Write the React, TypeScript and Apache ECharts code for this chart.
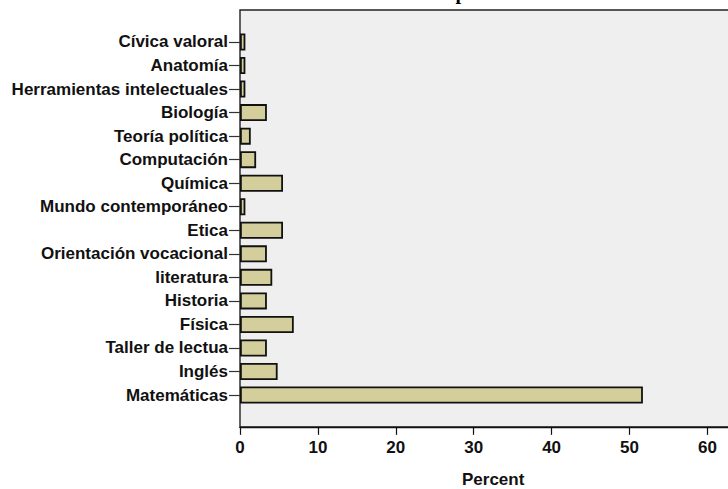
import React, { useEffect, useRef } from "react";
import * as echarts from "echarts";

const categories = [
  "Cívica valoral",
  "Anatomía",
  "Herramientas intelectuales",
  "Biología",
  "Teoría política",
  "Computación",
  "Química",
  "Mundo contemporáneo",
  "Etica",
  "Orientación vocacional",
  "literatura",
  "Historia",
  "Física",
  "Taller de lectua",
  "Inglés",
  "Matemáticas",
];

const percents = [
  0.69, 0.69, 0.69, 3.45, 1.38, 2.07, 5.52, 0.69, 5.52, 3.45, 4.14, 3.45, 6.9,
  3.45, 4.83, 51.72,
];

const xTicks = [0, 10, 20, 30, 40, 50, 60];
const axisName = "Percent";

const FONT = "Liberation Sans";

export default function App() {
  const ref = useRef<HTMLDivElement>(null);
  useEffect(() => {
    if (!ref.current) return;
    const chart = echarts.init(ref.current, null, { renderer: "svg" });
    const gridLeft = 240;
    const gridTop = 30.2;
    const band = 23.54;
    const gridHeight = band * categories.length;
    const pxPerUnit = 7.79;
    const xMax = 65;
    chart.setOption({
      animation: false,
      backgroundColor: "#ffffff",
      graphic: [
        {
          type: "rect",
          z: -10,
          silent: true,
          shape: { x: 240, y: 10, width: 600, height: 417 },
          style: { fill: "#EFEFEF", stroke: "#222222", lineWidth: 1.4 },
        },
        {
          type: "text",
          z: -10,
          silent: true,
          x: 461,
          y: -8,
          style: {
            text: "p",
            font: "bold 20px 'Liberation Serif'",
            fill: "#000",
            textAlign: "center",
            textVerticalAlign: "middle",
          },
        },
      ],
      grid: {
        left: gridLeft,
        top: gridTop,
        width: pxPerUnit * xMax,
        height: gridHeight,
        containLabel: false,
        outerBoundsMode: "none",
      },
      xAxis: {
        type: "value",
        min: 0,
        max: xMax,
        interval: 10,
        offset: 20,
        splitLine: { show: false },
        axisLine: { show: true, lineStyle: { color: "#111", width: 1.4 } },
        axisTick: { show: true, length: 8, inside: false, lineStyle: { color: "#111", width: 1.2 } },
        axisLabel: {
          fontFamily: FONT,
          fontWeight: "bold",
          fontSize: 17,
          color: "#111",
          margin: 12,
          formatter: (v: number) => (xTicks.includes(v) ? String(v) : ""),
        },
        name: axisName,
        nameLocation: "middle",
        nameGap: 44,
        nameTextStyle: {
          fontFamily: FONT,
          fontWeight: "bold",
          fontSize: 17,
          color: "#111",
        },
      },
      yAxis: {
        type: "category",
        data: categories,
        inverse: true,
        axisLine: { show: false },
        axisTick: {
          show: true,
          alignWithLabel: true,
          length: 11,
          lineStyle: { color: "#333", width: 1.2 },
        },
        axisLabel: {
          fontFamily: FONT,
          fontWeight: "bold",
          fontSize: 17,
          color: "#111",
          margin: 12,
        },
      },
      series: [
        {
          type: "bar",
          data: percents,
          barWidth: 17,
          itemStyle: {
            color: "#D3CE9B",
            borderColor: "#111",
            borderWidth: 1.8,
          },
        },
      ],
    });
    return () => chart.dispose();
  }, []);
  return (
    <div
      ref={ref}
      style={{ position: "fixed", left: 0, top: 0, width: 728, height: 489 }}
    />
  );
}
